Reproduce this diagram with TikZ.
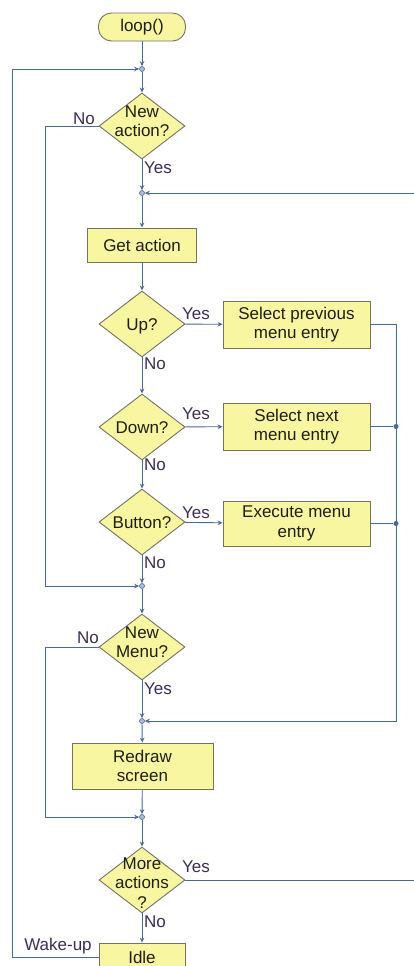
\documentclass[tikz,border=0pt]{standalone}
\usepackage{fontspec}
\setmainfont{Liberation Sans}
\usetikzlibrary{shapes.geometric,arrows.meta}
\definecolor{boxfill}{RGB}{248,246,160}
\definecolor{boxline}{RGB}{115,115,100}
\definecolor{flow}{RGB}{74,106,150}
\definecolor{lbl}{RGB}{60,45,85}
\definecolor{txt}{RGB}{30,30,20}
\begin{document}
\begin{tikzpicture}[x=1pt,y=-1pt,
  txtfont/.style={font=\fontsize{17}{19.5}\selectfont},
  proc/.style={draw=boxline, fill=boxfill, line width=0.9pt, inner sep=0pt, text=txt, align=center, txtfont},
  dec/.style={diamond, draw=boxline, fill=boxfill, minimum width=86pt, minimum height=66pt, inner sep=0pt, line width=0.9pt},
  dtext/.style={text=txt, align=center, inner sep=0pt, txtfont},
  junc/.style={circle, draw=flow, fill=flow!45, minimum size=5pt, inner sep=0pt, line width=0.6pt},
  jdot/.style={circle, fill=flow, minimum size=5pt, inner sep=0pt},
  flowline/.style={draw=flow, line width=0.9pt},
  arr/.style={flowline, -{Stealth[length=5pt,width=4.5pt]}},
  lab/.style={text=lbl, inner sep=0pt, txtfont}]
\useasboundingbox (0,0) rectangle (414,966);
\clip (0,0) rectangle (414,966);
\fill[white] (0,0) rectangle (414,966);

% nodes
\node[proc, rounded corners=13pt, minimum width=87pt, minimum height=28pt] (start) at (142,27) {loop()};
\node[junc] (j1) at (142,69) {};
\node[dec] (d1) at (142,126) {};
\node[dtext] (d1t) at (142,121) {New\\action?};
\node[junc] (j2) at (142,193) {};
\node[proc, minimum width=109pt, minimum height=34pt] (get) at (142,245) {Get action};
\node[dec] (d2) at (142,324) {};
\node[dtext] (d2t) at (142,326) {Up?};
\node[proc, minimum width=147pt, minimum height=47pt] (prev) at (296.5,324.5) {Select previous\\menu entry};
\node[dec] (d3) at (142,427) {};
\node[dtext] (d3t) at (142,428) {Down?};
\node[proc, minimum width=147pt, minimum height=47pt] (next) at (296.5,426.5) {Select next\\menu entry};
\node[dec] (d4) at (142,522) {};
\node[dtext] (d4t) at (142,523) {Button?};
\node[proc, minimum width=147pt, minimum height=45pt] (exec) at (296.5,523.5) {Execute menu\\entry};
\node[junc] (j3) at (142,586) {};
\node[dec] (d5) at (142,647) {};
\node[dtext] (d5t) at (142,642) {New\\Menu?};
\node[junc] (j4) at (142,721) {};
\node[proc, minimum width=141pt, minimum height=46pt] (redraw) at (142.5,766) {Redraw\\screen};
\node[junc] (j5) at (142,817) {};
\node[dec] (d6) at (142,880) {};
\node[dtext] (d6t) at (142,883) {More\\actions\\?};
\node[proc, minimum width=86pt, minimum height=28pt] (idle) at (142,957) {Idle};

% corner coordinates
\coordinate (wl) at (12,957);
\coordinate (wt) at (12,69);
\coordinate (n1a) at (45,126);
\coordinate (n1b) at (45,586);
\coordinate (n5a) at (45,647);
\coordinate (n5b) at (45,817);
\coordinate (ra) at (396,324.5);
\coordinate (rb) at (396,721);
\node[jdot] (rd1) at (396,426.5) {};
\node[jdot] (rd2) at (396,523.5) {};
\coordinate (ya) at (420,880);
\coordinate (yb) at (420,193);

% connectors
\draw[arr] (start) -- (j1);
\draw[arr] (j1) -- (d1);
\draw[arr] (idle.west) -- (wl) -- (wt) -- (j1);
\draw[arr] (d1.west) -- (n1a) -- (n1b) -- (j3);
\draw[arr] (d1) -- (j2);
\draw[arr] (d6.east) -- (ya) -- (yb) -- (j2);
\draw[arr] (j2) -- (get);
\draw[arr] (get) -- (d2);
\draw[arr] (d2) -- (prev);
\draw[arr] (d2) -- (d3);
\draw[arr] (d3) -- (next);
\draw[arr] (d3) -- (d4);
\draw[arr] (d4) -- (exec);
\draw[arr] (d4) -- (j3);
\draw[arr] (prev.east) -- (ra) -- (rb) -- (j4);
\draw[flowline] (next.east) -- (rd1);
\draw[flowline] (exec.east) -- (rd2);
\draw[arr] (j3) -- (d5);
\draw[arr] (d5.west) -- (n5a) -- (n5b) -- (j5);
\draw[arr] (d5) -- (j4);
\draw[arr] (j4) -- (redraw);
\draw[arr] (redraw) -- (j5);
\draw[arr] (j5) -- (d6);
\draw[arr] (d6) -- (idle);

% labels
\node[lab] at (84,119) {No};
\node[lab] at (158,168) {Yes};
\node[lab] at (196,314) {Yes};
\node[lab] at (155,364) {No};
\node[lab] at (196,414) {Yes};
\node[lab] at (155,465) {No};
\node[lab] at (196,513) {Yes};
\node[lab] at (155,563) {No};
\node[lab] at (88,638) {No};
\node[lab] at (158,689) {Yes};
\node[lab] at (196,867) {Yes};
\node[lab] at (155,922) {No};
\node[lab] at (58,946) {Wake-up};
\end{tikzpicture}
\end{document}
